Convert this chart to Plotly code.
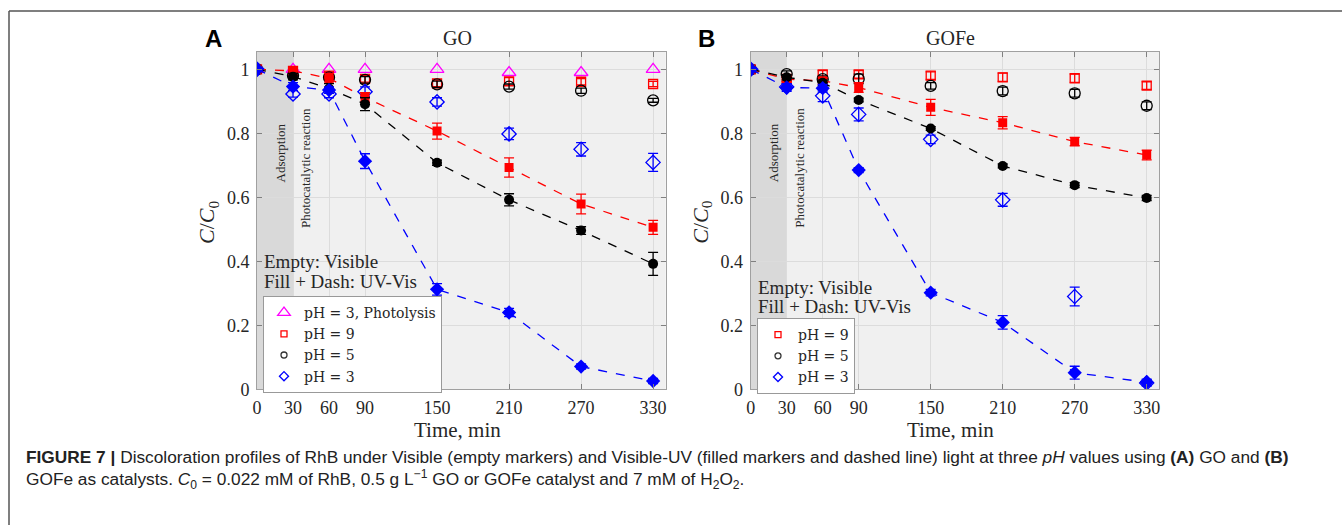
import plotly.graph_objects as go

W, H = 1342, 525

# ---------------- data ----------------
time_min = [0, 30, 60, 90, 150, 210, 270, 330]
x_ticks = [0, 30, 60, 90, 150, 210, 270, 330]
y_ticks = [0, 0.2, 0.4, 0.6, 0.8, 1]
y_tick_labels = ["0", "0.2", "0.4", "0.6", "0.8", "1"]

# Panel A: GO
go_photolysis_ph3 = [1.0, 1.0, 1.0, 1.0, 1.0, 0.99, 0.99, 1.0]
go_vis_ph9 = [1.0, 0.995, 0.98, 0.97, 0.956, 0.962, 0.961, 0.954]
go_vis_ph5 = [1.0, 0.98, 0.975, 0.967, 0.953, 0.946, 0.933, 0.903]
go_vis_ph3 = [1.0, 0.923, 0.923, 0.93, 0.898, 0.798, 0.75, 0.709]
go_uv_ph9 = [1.0, 0.995, 0.972, 0.912, 0.807, 0.693, 0.579, 0.506]
go_uv_ph5 = [1.0, 0.977, 0.94, 0.891, 0.708, 0.592, 0.496, 0.392]
go_uv_ph3 = [1.0, 0.946, 0.935, 0.713, 0.3125, 0.24, 0.071, 0.026]
go_vis_ph9_err = [0, 0.008, 0.012, 0.01, 0.01, 0.012, 0.01, 0.008]
go_vis_ph5_err = [0, 0.008, 0.01, 0.01, 0.01, 0.008, 0.008, 0.006]
go_vis_ph3_err = [0, 0.01, 0.012, 0.015, 0.013, 0.018, 0.021, 0.028]
go_uv_ph9_err = [0, 0.008, 0.015, 0.015, 0.025, 0.03, 0.031, 0.022]
go_uv_ph5_err = [0, 0.01, 0.015, 0.02, 0.008, 0.019, 0.012, 0.036]
go_uv_ph3_err = [0, 0.012, 0.01, 0.023, 0.018, 0.013, 0.008, 0.008]

# Panel B: GOFe
gofe_vis_ph9 = [1.0, 0.97, 0.984, 0.984, 0.98, 0.975, 0.972, 0.949]
gofe_vis_ph5 = [1.0, 0.985, 0.969, 0.97, 0.948, 0.932, 0.925, 0.886]
gofe_vis_ph3 = [1.0, 0.945, 0.917, 0.859, 0.781, 0.592, 0.29, 0.02]
gofe_uv_ph9 = [1.0, 0.969, 0.964, 0.943, 0.881, 0.833, 0.774, 0.732]
gofe_uv_ph5 = [1.0, 0.975, 0.958, 0.904, 0.815, 0.698, 0.638, 0.598]
gofe_uv_ph3 = [1.0, 0.943, 0.941, 0.685, 0.302, 0.209, 0.052, 0.022]
gofe_vis_ph9_err = [0, 0.008, 0.012, 0.012, 0.012, 0.013, 0.013, 0.012]
gofe_vis_ph5_err = [0, 0.01, 0.01, 0.015, 0.01, 0.012, 0.012, 0.012]
gofe_vis_ph3_err = [0, 0.01, 0.018, 0.02, 0.013, 0.02, 0.029, 0.01]
gofe_uv_ph9_err = [0, 0.008, 0.01, 0.015, 0.025, 0.019, 0.013, 0.015]
gofe_uv_ph5_err = [0, 0.008, 0.008, 0.006, 0.006, 0.006, 0.008, 0.008]
gofe_uv_ph3_err = [0, 0.012, 0.012, 0.008, 0.01, 0.021, 0.02, 0.01]

legend_labels = ["pH = 3, Photolysis", "pH = 9", "pH = 5", "pH = 3"]

RED, BLACK, BLUE, MAG = "#ff0000", "#000000", "#0000ff", "#ff00ff"
SERIF = "Liberation Serif, DejaVu Serif, serif"


def px(x):
    return x / W


def py(y):
    return 1 - y / H


fig = go.Figure()


def add_vis(xa, ya, y, err, color, symbol, size):
    fig.add_trace(go.Scatter(
        x=time_min, y=y, xaxis=xa, yaxis=ya, mode="markers",
        marker=dict(symbol=symbol, size=size, color=color,
                    line=dict(color=color, width=1.3)),
        error_y=dict(type="data", array=err, color=color, thickness=1.3, width=5),
        showlegend=False, hoverinfo="skip"))


def add_uv(xa, ya, y, err, color, symbol, size):
    fig.add_trace(go.Scatter(
        x=time_min, y=y, xaxis=xa, yaxis=ya, mode="lines+markers",
        line=dict(color=color, width=1.3, dash="dash"),
        marker=dict(symbol=symbol, size=size, color=color),
        error_y=dict(type="data", array=err, color=color, thickness=1.3, width=5),
        showlegend=False, hoverinfo="skip"))


def add_leg(legend, name, color, symbol, size):
    fig.add_trace(go.Scatter(
        x=[None], y=[None], mode="markers", name=name, legend=legend,
        marker=dict(symbol=symbol, size=size, color=color,
                    line=dict(color=color, width=1.3)),
        showlegend=True))


# Panel A
fig.add_trace(go.Scatter(
    x=time_min, y=go_photolysis_ph3, xaxis="x", yaxis="y", mode="markers",
    marker=dict(symbol="triangle-up-open", size=12, color=MAG, line=dict(width=1.3)),
    showlegend=False, hoverinfo="skip"))
add_vis("x", "y", go_vis_ph9, go_vis_ph9_err, RED, "square-open", 9)
add_vis("x", "y", go_vis_ph5, go_vis_ph5_err, BLACK, "circle-open", 11)
add_vis("x", "y", go_vis_ph3, go_vis_ph3_err, BLUE, "diamond-open", 11)
add_uv("x", "y", go_uv_ph9, go_uv_ph9_err, RED, "square", 9)
add_uv("x", "y", go_uv_ph5, go_uv_ph5_err, BLACK, "circle", 10)
add_uv("x", "y", go_uv_ph3, go_uv_ph3_err, BLUE, "diamond", 11)

# Panel B
add_vis("x2", "y2", gofe_vis_ph9, gofe_vis_ph9_err, RED, "square-open", 9)
add_vis("x2", "y2", gofe_vis_ph5, gofe_vis_ph5_err, BLACK, "circle-open", 11)
add_vis("x2", "y2", gofe_vis_ph3, gofe_vis_ph3_err, BLUE, "diamond-open", 11)
add_uv("x2", "y2", gofe_uv_ph9, gofe_uv_ph9_err, RED, "square", 9)
add_uv("x2", "y2", gofe_uv_ph5, gofe_uv_ph5_err, BLACK, "circle", 10)
add_uv("x2", "y2", gofe_uv_ph3, gofe_uv_ph3_err, BLUE, "diamond", 11)

# legends
add_leg("legend", legend_labels[0], MAG, "triangle-up-open", 11)
add_leg("legend", legend_labels[1], RED, "square-open", 6)
add_leg("legend", legend_labels[2], "#333333", "circle-open", 6)
add_leg("legend", legend_labels[3], BLUE, "diamond-open", 7)
add_leg("legend2", legend_labels[1], RED, "square-open", 6)
add_leg("legend2", legend_labels[2], "#333333", "circle-open", 6)
add_leg("legend2", legend_labels[3], BLUE, "diamond-open", 7)

dom_y = [py(389.3), py(52)]
dom_x1 = [px(257), px(665.7)]
dom_x2 = [px(750.7), px(1159.3)]

axis_common = dict(
    showline=True, linecolor="#a0a0a0", linewidth=1, mirror="ticks",
    ticks="inside", ticklen=5, tickcolor="#808080",
    showgrid=True, gridcolor="#dcdcdc", gridwidth=1, zeroline=False,
    tickfont=dict(family=SERIF, size=18, color="#262626"),
    automargin=False,
)

xcommon = dict(axis_common, range=[0, 340.5], tickmode="array",
               tickvals=x_ticks, ticktext=[str(v) for v in x_ticks],
               ticklabelstandoff=2)
ycommon = dict(axis_common, range=[0, 1.054], tickmode="array",
               tickvals=y_ticks, ticktext=y_tick_labels, ticklabelstandoff=3)

legend_common = dict(
    bgcolor="white", bordercolor="#999999", borderwidth=1,
    font=dict(family="DejaVu Serif, serif", size=14, color="#262626"),
    xanchor="left", yanchor="top", tracegroupgap=0,
    itemwidth=30,
)

fig.update_layout(
    width=W, height=H,
    margin=dict(l=0, r=0, t=0, b=0),
    paper_bgcolor="white",
    plot_bgcolor="#f0f0f0",
    xaxis=dict(xcommon, domain=dom_x1, anchor="y"),
    yaxis=dict(ycommon, domain=dom_y, anchor="x"),
    xaxis2=dict(xcommon, domain=dom_x2, anchor="y2"),
    yaxis2=dict(ycommon, domain=dom_y, anchor="x2"),
    legend=dict(legend_common, x=px(263), y=py(296)),
    legend2=dict(legend_common, x=px(757), y=py(318)),
)

shapes = []
for xa, ya in (("x", "y"), ("x2", "y2")):
    shapes.append(dict(type="rect", xref=xa, yref=ya + " domain", x0=0, x1=30,
                       y0=0, y1=1, fillcolor="#d9d9d9", line=dict(width=0),
                       layer="below"))
# figure frame lines
shapes.append(dict(type="line", xref="paper", yref="paper", x0=px(9), x1=1,
                   y0=py(11), y1=py(11), line=dict(color="#555555", width=1.5)))
shapes.append(dict(type="line", xref="paper", yref="paper", x0=px(9), x1=px(9),
                   y0=py(11), y1=0, line=dict(color="#555555", width=1.5)))
fig.update_layout(shapes=shapes)

ann = []
TXT = "#262626"
for off, title, letter in ((0, "GO", "A"), (493.7, "GOFe", "B")):
    ann.append(dict(x=px(457 + off), y=py(38), text=title, showarrow=False,
                    xref="paper", yref="paper", xanchor="center", yanchor="middle",
                    font=dict(family=SERIF, size=20, color=TXT)))
    ann.append(dict(x=px(213 + off), y=py(38), text="<b>" + letter + "</b>", showarrow=False,
                    xref="paper", yref="paper", xanchor="center", yanchor="middle",
                    font=dict(family="Liberation Sans, Arial, sans-serif", size=24, color="black")))
    ann.append(dict(x=px(457 + off), y=py(430), text="Time, min", showarrow=False,
                    xref="paper", yref="paper", xanchor="center", yanchor="middle",
                    font=dict(family=SERIF, size=21, color=TXT)))
    ann.append(dict(x=px(208 + off), y=py(222), text="<i>C</i>/<i>C</i><sub>0</sub>",
                    showarrow=False, textangle=-90,
                    xref="paper", yref="paper", xanchor="center", yanchor="middle",
                    font=dict(family=SERIF, size=22, color=TXT)))
    ann.append(dict(x=px(280.5 + off), y=py(153), text="Adsorption", showarrow=False,
                    textangle=-90, xref="paper", yref="paper",
                    xanchor="center", yanchor="middle",
                    font=dict(family=SERIF, size=13, color=TXT)))
    ann.append(dict(x=px(305 + off), y=py(168), text="Photocatalytic reaction",
                    showarrow=False, textangle=-90, xref="paper", yref="paper",
                    xanchor="center", yanchor="middle",
                    font=dict(family=SERIF, size=13, color=TXT)))

# Empty / Fill notes
for x0, y1, y2 in ((262, 261, 281), (756, 287, 306)):
    ann.append(dict(x=px(x0), y=py(y1), text="Empty: Visible", showarrow=False,
                    xref="paper", yref="paper", xanchor="left", yanchor="middle",
                    font=dict(family=SERIF, size=19, color=TXT)))
    ann.append(dict(x=px(x0), y=py(y2), text="Fill + Dash: UV-Vis", showarrow=False,
                    xref="paper", yref="paper", xanchor="left", yanchor="middle",
                    font=dict(family=SERIF, size=19, color=TXT)))

CAP = "Liberation Sans, Arial, sans-serif"
ann.append(dict(x=px(24), y=py(457),
                text="<b>FIGURE 7 |</b> Discoloration profiles of RhB under Visible (empty markers) and "
                     "Visible-UV (filled markers and dashed line) light at three <i>pH</i> values using "
                     "<b>(A)</b> GO and <b>(B)</b>",
                showarrow=False, xref="paper", yref="paper", xanchor="left", yanchor="middle",
                font=dict(family=CAP, size=17.3, color="#222222")))
ann.append(dict(x=px(24), y=py(479),
                text="GOFe as catalysts. <i>C</i><sub>0</sub> = 0.022 mM of RhB, 0.5 g L<sup>\u22121</sup> "
                     "GO or GOFe catalyst and 7 mM of H<sub>2</sub>O<sub>2</sub>.",
                showarrow=False, xref="paper", yref="paper", xanchor="left", yanchor="middle",
                font=dict(family=CAP, size=17.3, color="#222222")))
fig.update_layout(annotations=ann)

fig.write_html("out.html")
